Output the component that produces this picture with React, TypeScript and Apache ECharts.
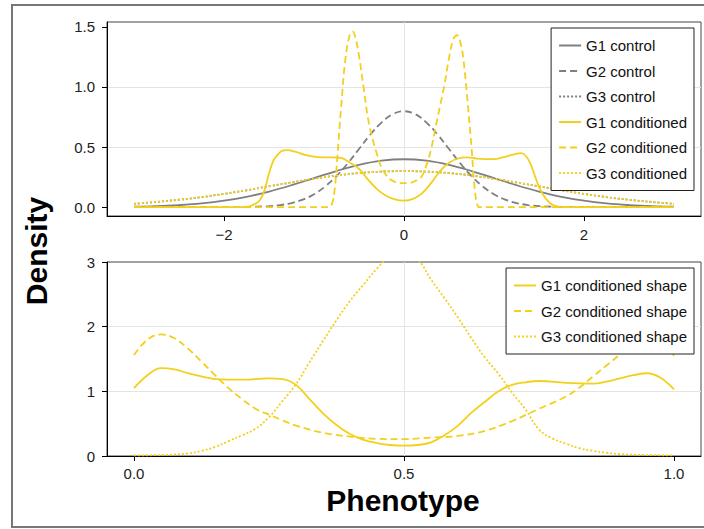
import React, { useEffect, useRef } from "react";
import * as echarts from "echarts";

// ---------- top panel data ----------
const xTop = [-3, -2.75, -2.5, -2.25, -2, -1.75, -1.5, -1.25, -1, -0.75, -0.5, -0.25, 0, 0.25, 0.5, 0.75, 1, 1.25, 1.5, 1.75, 2, 2.25, 2.5, 2.75, 3];
const g1Control = [0.004, 0.009, 0.018, 0.032, 0.054, 0.086, 0.13, 0.183, 0.242, 0.301, 0.352, 0.387, 0.399, 0.387, 0.352, 0.301, 0.242, 0.183, 0.13, 0.086, 0.054, 0.032, 0.018, 0.009, 0.004];
const g3Control = [0.028, 0.044, 0.062, 0.084, 0.111, 0.141, 0.174, 0.206, 0.237, 0.264, 0.284, 0.296, 0.3, 0.296, 0.284, 0.264, 0.237, 0.206, 0.174, 0.141, 0.111, 0.084, 0.062, 0.044, 0.028];
const g3Conditioned = [0.028, 0.044, 0.062, 0.084, 0.111, 0.141, 0.174, 0.206, 0.237, 0.264, 0.284, 0.296, 0.3, 0.296, 0.284, 0.264, 0.237, 0.206, 0.174, 0.141, 0.111, 0.084, 0.062, 0.044, 0.028];

const xG2Control = [-3, -2, -1.75, -1.5, -1.375, -1.25, -1.125, -1, -0.875, -0.75, -0.625, -0.5, -0.375, -0.25, -0.125, 0, 0.125, 0.25, 0.375, 0.5, 0.625, 0.75, 0.875, 1, 1.125, 1.25, 1.375, 1.5, 1.75, 2, 3];
const g2Control = [0, 0.0003, 0.002, 0.009, 0.018, 0.035, 0.063, 0.108, 0.173, 0.259, 0.365, 0.484, 0.603, 0.704, 0.774, 0.798, 0.774, 0.704, 0.603, 0.484, 0.365, 0.259, 0.173, 0.108, 0.063, 0.035, 0.018, 0.009, 0.002, 0.0003, 0];

const xG1Cond = [-3, -1.8, -1.75, -1.7, -1.65, -1.6, -1.55, -1.5, -1.45, -1.4, -1.35, -1.3, -1.2, -1.1, -1.0, -0.9, -0.8, -0.7, -0.6, -0.5, -0.4, -0.3, -0.2, -0.1, 0, 0.1, 0.2, 0.3, 0.4, 0.5, 0.6, 0.7, 0.8, 0.9, 1.0, 1.1, 1.2, 1.3, 1.35, 1.4, 1.45, 1.5, 1.55, 1.6, 1.65, 1.7, 1.75, 1.8, 3];
const g1Conditioned = [0, 0, 0.003, 0.012, 0.03, 0.06, 0.14, 0.28, 0.39, 0.44, 0.47, 0.475, 0.46, 0.435, 0.42, 0.415, 0.415, 0.41, 0.37, 0.32, 0.23, 0.15, 0.095, 0.065, 0.055, 0.07, 0.115, 0.2, 0.3, 0.37, 0.405, 0.415, 0.405, 0.4, 0.4, 0.415, 0.435, 0.45, 0.43, 0.37, 0.27, 0.17, 0.1, 0.05, 0.02, 0.007, 0.001, 0, 0];

const xG2Cond = [-3, -0.84, -0.8, -0.77, -0.74, -0.7, -0.65, -0.6, -0.57, -0.54, -0.5, -0.45, -0.4, -0.35, -0.3, -0.25, -0.2, -0.15, -0.1, -0.05, 0, 0.05, 0.1, 0.15, 0.2, 0.25, 0.3, 0.35, 0.4, 0.45, 0.5, 0.55, 0.59, 0.63, 0.66, 0.7, 0.75, 0.78, 0.81, 0.84, 3];
const g2Conditioned = [0, 0, 0.03, 0.15, 0.42, 0.82, 1.24, 1.44, 1.46, 1.41, 1.26, 1.0, 0.74, 0.57, 0.44, 0.33, 0.27, 0.23, 0.21, 0.2, 0.2, 0.2, 0.21, 0.23, 0.26, 0.35, 0.48, 0.66, 0.84, 1.02, 1.24, 1.4, 1.43, 1.36, 1.23, 0.93, 0.5, 0.2, 0.03, 0, 0];

// ---------- bottom panel data ----------
const xG1Shape = [0, 0.025, 0.05, 0.075, 0.1, 0.125, 0.15, 0.2, 0.25, 0.275, 0.3, 0.325, 0.35, 0.375, 0.4, 0.425, 0.45, 0.475, 0.5, 0.525, 0.55, 0.575, 0.6, 0.625, 0.65, 0.675, 0.7, 0.725, 0.75, 0.8, 0.85, 0.875, 0.9, 0.925, 0.95, 0.975, 1.0];
const g1Shape = [1.05, 1.25, 1.36, 1.34, 1.28, 1.23, 1.19, 1.18, 1.2, 1.19, 1.1, 0.88, 0.66, 0.48, 0.34, 0.25, 0.2, 0.17, 0.16, 0.17, 0.21, 0.32, 0.47, 0.67, 0.84, 1.0, 1.1, 1.14, 1.16, 1.13, 1.12, 1.15, 1.2, 1.25, 1.28, 1.21, 1.03];

const xG2Shape = [0, 0.025, 0.05, 0.075, 0.1, 0.125, 0.15, 0.175, 0.2, 0.225, 0.25, 0.275, 0.3, 0.35, 0.4, 0.45, 0.5, 0.55, 0.6, 0.65, 0.7, 0.75, 0.8, 0.825, 0.85, 0.875, 0.9, 0.925, 0.95, 0.975, 1.0];
const g2Shape = [1.56, 1.8, 1.88, 1.82, 1.66, 1.46, 1.25, 1.05, 0.88, 0.73, 0.64, 0.55, 0.47, 0.36, 0.3, 0.265, 0.26, 0.285, 0.31, 0.39, 0.54, 0.73, 0.92, 1.06, 1.23, 1.4, 1.57, 1.75, 1.86, 1.82, 1.55];

const xG3Shape = [0, 0.05, 0.1, 0.125, 0.15, 0.175, 0.2, 0.225, 0.25, 0.275, 0.3, 0.325, 0.35, 0.375, 0.4, 0.425, 0.45, 0.475, 0.5, 0.525, 0.55, 0.575, 0.6, 0.625, 0.65, 0.675, 0.7, 0.725, 0.75, 0.775, 0.8, 0.825, 0.85, 0.875, 0.9, 0.95, 1.0];
const g3Shape = [0.01, 0.015, 0.04, 0.08, 0.14, 0.23, 0.32, 0.42, 0.6, 0.85, 1.11, 1.45, 1.78, 2.1, 2.4, 2.65, 2.9, 3.1, 3.18, 3.05, 2.73, 2.44, 2.14, 1.82, 1.52, 1.27, 0.98, 0.72, 0.41, 0.27, 0.19, 0.12, 0.08, 0.05, 0.03, 0.015, 0.01];

// ---------- ticks ----------
const topXTicks = [-2, 0, 2];
const topYTicks = [0, 0.5, 1.0, 1.5];
const botXTicks = [0, 0.5, 1.0];
const botYTicks = [0, 1, 2, 3];

const GRAY = "#7f7f7f";
const YELLOW = "#f2d01c";
const FONT = "Liberation Sans, Arial, Helvetica, sans-serif";

const zip = (xs: number[], ys: number[]) => xs.map((x, i) => [x, ys[i]]);

const DASH = [7, 4];
const DOT = [2, 2];

function line(name: string, xs: number[], ys: number[], color: string, type: any, axis: number, width = 1.8) {
  return {
    name,
    type: "line",
    data: zip(xs, ys),
    xAxisIndex: axis,
    yAxisIndex: axis,
    symbol: "none",
    showSymbol: false,
    smooth: 0.4,
    clip: true,
    lineStyle: { color, width, type },
    itemStyle: { color },
  };
}

export default function App() {
  const ref = useRef<HTMLDivElement>(null);
  useEffect(() => {
    if (!ref.current) return;
    const chart = echarts.init(ref.current, null, { renderer: "svg" });
    const axisLabelBase = { color: "#222", fontSize: 15, fontFamily: FONT };
    const mkX = (idx: number, min: number, max: number, interval: number, ticks: number[], fmt: (v: number) => string, margin: number) => ({
      type: "value",
      gridIndex: idx,
      min,
      max,
      interval,
      axisLine: { show: true, onZero: false, lineStyle: { color: "#000", width: 1 } },
      axisTick: { show: true, inside: false, length: 5, customValues: ticks, lineStyle: { color: "#000" } },
      axisLabel: { ...axisLabelBase, margin, customValues: ticks, formatter: fmt },
      splitLine: { show: true, showMinLine: false, showMaxLine: false, lineStyle: { color: "#e4e4e4", width: 1 } },
    });
    const mkY = (idx: number, min: number, max: number, interval: number, ticks: number[], fmt: (v: number) => string) => ({
      type: "value",
      gridIndex: idx,
      min,
      max,
      interval,
      axisLine: { show: true, onZero: false, lineStyle: { color: "#000", width: 1 } },
      axisTick: { show: true, inside: false, length: 5, customValues: ticks, lineStyle: { color: "#000" } },
      axisLabel: { ...axisLabelBase, margin: 12, customValues: ticks, formatter: fmt },
      splitLine: { show: true, showMinLine: false, showMaxLine: false, lineStyle: { color: "#e4e4e4", width: 1 } },
    });
    const legendBase = {
      orient: "vertical",
      right: 10,
      backgroundColor: "#fff",
      borderColor: "#222",
      borderWidth: 1,
      borderRadius: 0,
      padding: [10, 7, 10, 7],
      itemWidth: 22,
      itemHeight: 14,
      itemGap: 10.5,
      itemStyle: { opacity: 0, borderWidth: 0 },
      textStyle: { fontSize: 15, color: "#111", fontFamily: FONT },
      selectedMode: false,
    };
    chart.setOption({
      animation: false,
      backgroundColor: "#fff",
      grid: [
        { left: 107, top: 22, width: 594, height: 194, show: true, borderColor: "#444", borderWidth: 1, backgroundColor: "transparent" },
        { left: 107, top: 262, width: 594, height: 194, show: true, borderColor: "#444", borderWidth: 1, backgroundColor: "transparent" },
      ],
      xAxis: [
        mkX(0, -3.3, 3.3, 2, topXTicks, (v: number) => (v < 0 ? "\u2212" + Math.abs(v) : String(v)), 11),
        mkX(1, -0.05, 1.05, 0.5, botXTicks, (v: number) => v.toFixed(1), 10),
      ],
      yAxis: [
        mkY(0, -0.073, 1.54, 0.5, topYTicks, (v: number) => v.toFixed(1)),
        mkY(1, 0, 3, 1, botYTicks, (v: number) => String(v)),
      ],
      legend: [
        { ...legendBase, top: 28, data: ["G1 control", "G2 control", "G3 control", "G1 conditioned", "G2 conditioned", "G3 conditioned"] },
        { ...legendBase, top: 268, data: ["G1 conditioned shape", "G2 conditioned shape", "G3 conditioned shape"] },
      ],
      graphic: [
        { type: "rect", shape: { x: 12, y: 5, width: 700, height: 522 }, style: { fill: "none", stroke: "#777", lineWidth: 2 }, silent: true },
        { type: "text", x: 36, y: 251, rotation: Math.PI / 2, style: { text: "Density", font: `bold 30px ${FONT}`, fill: "#000", align: "center", verticalAlign: "middle" } },
        { type: "text", x: 403, y: 500, style: { text: "Phenotype", font: `bold 30px ${FONT}`, fill: "#000", align: "center", verticalAlign: "middle" } },
      ],
      series: [
        line("G1 control", xTop, g1Control, GRAY, "solid", 0),
        line("G2 control", xG2Control, g2Control, GRAY, DASH, 0),
        line("G3 control", xTop, g3Control, GRAY, DOT, 0),
        line("G1 conditioned", xG1Cond, g1Conditioned, YELLOW, "solid", 0),
        line("G2 conditioned", xG2Cond, g2Conditioned, YELLOW, DASH, 0),
        line("G3 conditioned", xTop, g3Conditioned, YELLOW, DOT, 0),
        line("G1 conditioned shape", xG1Shape, g1Shape, YELLOW, "solid", 1),
        line("G2 conditioned shape", xG2Shape, g2Shape, YELLOW, DASH, 1),
        line("G3 conditioned shape", xG3Shape, g3Shape, YELLOW, DOT, 1),
      ],
    });
    return () => chart.dispose();
  }, []);
  return <div ref={ref} style={{ width: 704, height: 529, position: "absolute", left: 0, top: 0 }} />;
}
